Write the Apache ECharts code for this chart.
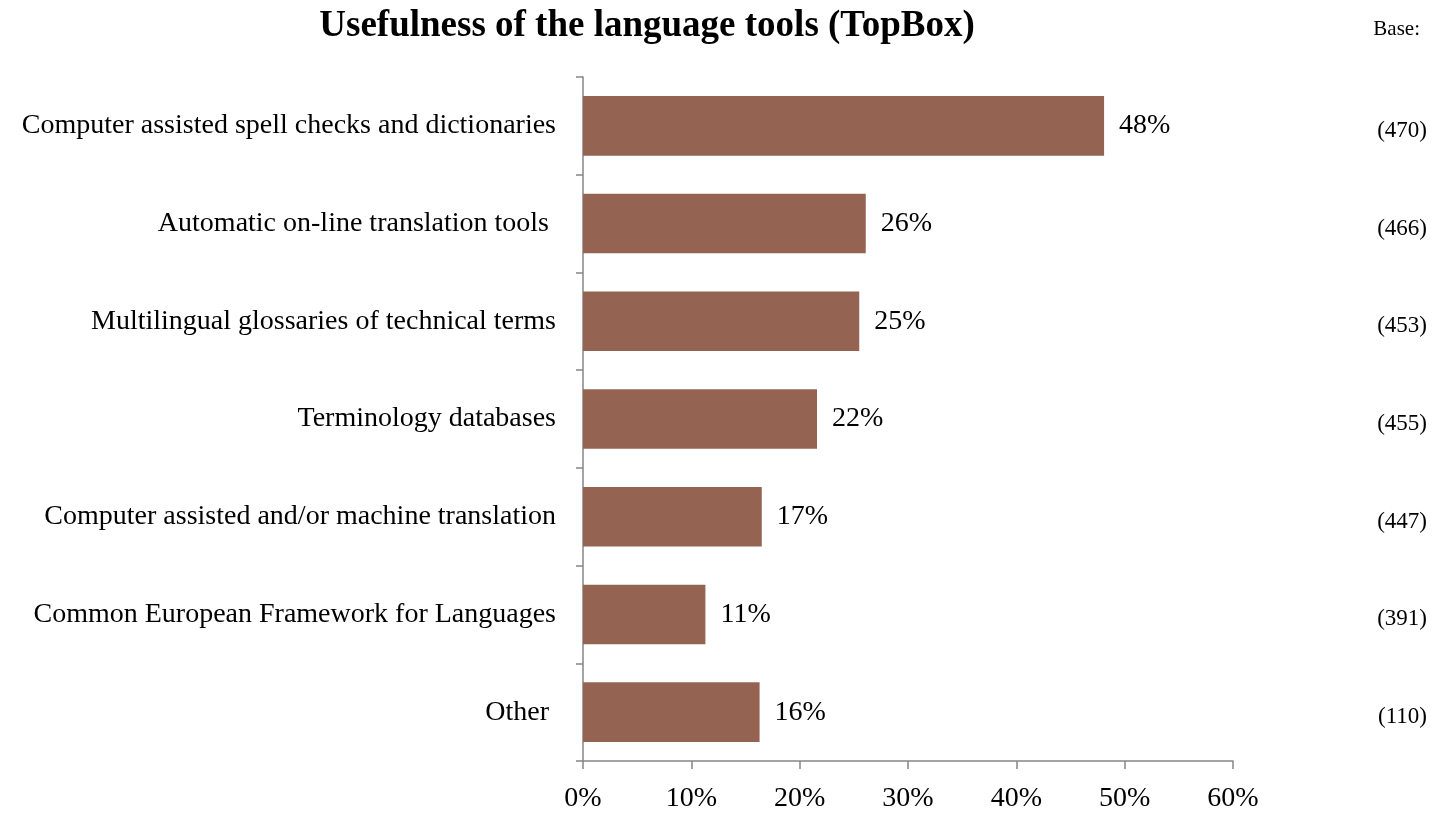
<!DOCTYPE html>
<html>
<head>
<meta charset="utf-8">
<script src="https://cdn.jsdelivr.net/npm/echarts@6/dist/echarts.min.js"></script>
<style>
html,body{margin:0;padding:0;background:#fff;}
#chart{width:1441px;height:813px;}
</style>
</head>
<body>
<div id="chart"></div>
<script>
const categories = [
  "Computer assisted spell checks and dictionaries",
  "Automatic on-line translation tools ",
  "Multilingual glossaries of technical terms",
  "Terminology databases",
  "Computer assisted and/or machine translation",
  "Common European Framework for Languages",
  "Other "
];
const values = [48.1, 26.1, 25.5, 21.6, 16.5, 11.3, 16.3];
const valueLabels = ["48%", "26%", "25%", "22%", "17%", "11%", "16%"];
const bases = ["(470)", "(466)", "(453)", "(455)", "(447)", "(391)", "(110)"];
const xTicks = { min: 0, max: 60, interval: 10 };

const FONT = '"Liberation Serif", "DejaVu Serif", serif';
const chart = echarts.init(document.getElementById('chart'));
chart.setOption({
  backgroundColor: '#ffffff',
  animation: false,
  title: {
    text: 'Usefulness of the language tools (TopBox)',
    left: 642, top: 3, textAlign: 'center',
    textStyle: { fontFamily: FONT, fontSize: 37, fontWeight: 'bold', color: '#000' }
  },
  graphic: [{
    type: 'text', right: 21, top: 19,
    style: { text: 'Base:', fontFamily: FONT, fontSize: 21, fill: '#000' }
  }],
  grid: { left: 583, right: 208, top: 77, bottom: 51, containLabel: false },
  xAxis: {
    type: 'value', min: xTicks.min, max: xTicks.max, interval: xTicks.interval,
    axisLine: { show: true, lineStyle: { color: '#868686', width: 1.5 } },
    axisTick: { show: true, length: 8, lineStyle: { color: '#868686', width: 1.5 } },
    splitLine: { show: false },
    axisLabel: { formatter: '{value}%', margin: 24, fontFamily: FONT, fontSize: 28, color: '#000' }
  },
  yAxis: [{
    type: 'category', data: categories, inverse: true,
    axisLine: { show: true, lineStyle: { color: '#868686', width: 1.5 } },
    axisTick: { show: true, length: 7, alignWithLabel: false, lineStyle: { color: '#868686', width: 1.5 } },
    axisLabel: { margin: 27, fontFamily: FONT, fontSize: 28, color: '#000' }
  }, {
    type: 'category', data: bases, inverse: true, position: 'right',
    axisLine: { show: false }, axisTick: { show: false },
    axisLabel: {
      margin: 194, align: 'right',
      formatter: v => '{b|' + v + '}',
      rich: { b: { fontFamily: FONT, fontSize: 23, color: '#000', padding: [10, 0, 0, 0] } }
    }
  }],
  series: [{
    type: 'bar', data: values, yAxisIndex: 0,
    barCategoryGap: '39%',
    itemStyle: { color: '#956352' },
    label: {
      show: true, position: 'right', distance: 15,
      formatter: p => valueLabels[p.dataIndex],
      fontFamily: FONT, fontSize: 28, color: '#000'
    }
  }]
});
</script>
</body>
</html>
